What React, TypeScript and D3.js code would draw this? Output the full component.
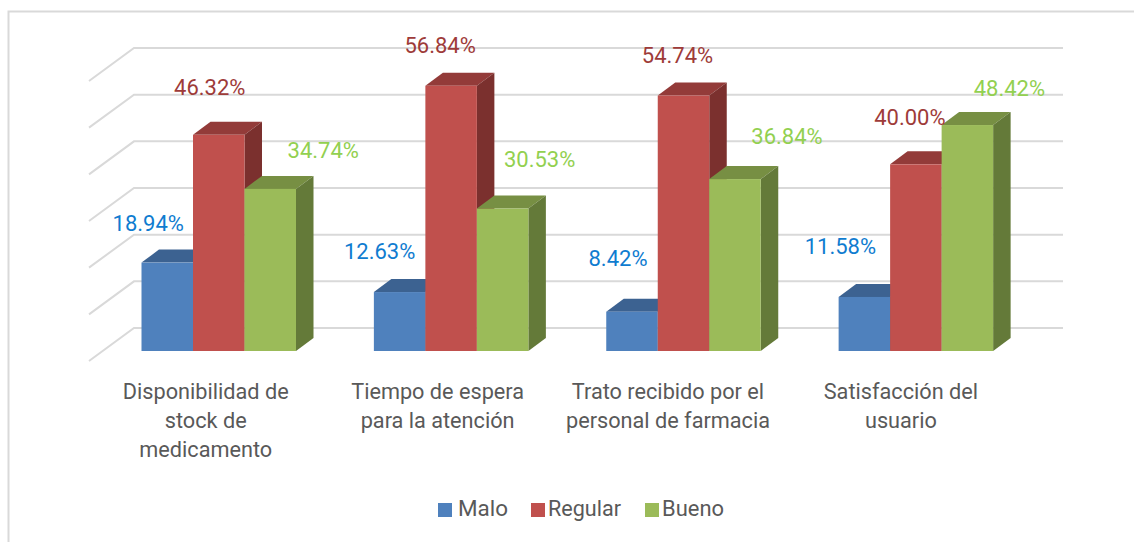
import React from "react";
import * as d3 from "d3";

const categories = [
  ["Disponibilidad de", "stock de", "medicamento"],
  ["Tiempo de espera", "para la atención"],
  ["Trato recibido por el", "personal de farmacia"],
  ["Satisfacción del", "usuario"],
];
const seriesNames = ["Malo", "Regular", "Bueno"];
const malo = [18.94, 12.63, 8.42, 11.58];
const regular = [46.32, 56.84, 54.74, 40.0];
const bueno = [34.74, 30.53, 36.84, 48.42];
const seriesValues = [malo, regular, bueno];
const gridTicks = [0, 10, 20, 30, 40, 50, 60];

const frontColors = ["#4f81bd", "#c0504d", "#9bbb59"];
const topColors = ["#3c6291", "#933b39", "#778f43"];
const sideColors = ["#345580", "#7b302e", "#647a39"];
const labelColors = ["#0f7cd0", "#9e3b39", "#92d050"];
// label offset from the top of each bar's front face: [dx from bar centre, dy]
const labelOffsets = [
  [[-19, -32], [-9, -40], [53, -31]],
  [[-20, -33], [-11, -33], [37, -42]],
  [[-14, -46], [-6, -33], [52, -35]],
  [[-24, -43], [-6, -39], [42, -29]],
];
const categoryShift = [0, -0.5, -2.5, -2];

const FONT = "Roboto, sans-serif";
const y = d3.scaleLinear().domain([0, 60]).range([351, 71]);
const gridY = d3.scaleLinear().domain([0, 60]).range([328, 48]);
const catX = d3.scaleBand<number>().domain([0, 1, 2, 3]).range([83.5, 1013]);
const BAR_W = 51.5;
const DX = 17.5;
const DY = 13;
const WALL_DX = 45;
const WALL_DY = 33;
const GRID_LEFT = 134;
const GRID_RIGHT = 1063;

function barX(c: number, s: number) {
  return (catX(c) as number) + 58 + s * BAR_W;
}
const poly = (pts: [number, number][]) => d3.line()(pts) + "Z";

export default function App() {
  const legendX = [438, 531, 645];
  const legendTextX = [458, 548, 662];
  const legendW = [50, 73, 62];
  return (
    <svg width={1134} height={542} style={{ position: "absolute", left: 0, top: 0, background: "#fff" }}>
      <path d="M8.5 542V11.5H1134" fill="none" stroke="#d9d9d9" strokeWidth={2} />
      {gridTicks.map((t) => (
        <path
          key={t}
          d={d3.line()([
            [GRID_LEFT - WALL_DX, gridY(t) + WALL_DY],
            [GRID_LEFT, gridY(t)],
            [GRID_RIGHT, gridY(t)],
          ]) as string}
          fill="none"
          stroke="#d9d9d9"
          strokeWidth={2}
        />
      ))}
      {categories.map((_, c) => (
        <g key={c}>
          {seriesValues.map((vals, s) => {
            const x0 = barX(c, s);
            const x1 = x0 + BAR_W;
            const yt = y(vals[c]);
            const yb = y(0);
            return (
              <g key={s}>
                <path d={poly([[x0, yt], [x0 + DX, yt - DY], [x1 + DX, yt - DY], [x1, yt]])} fill={topColors[s]} />
                <path d={poly([[x1, yt], [x1 + DX, yt - DY], [x1 + DX, yb - DY], [x1, yb]])} fill={sideColors[s]} />
                <rect x={x0} y={yt} width={BAR_W} height={yb - yt} fill={frontColors[s]} />
              </g>
            );
          })}
        </g>
      ))}
      {categories.map((_, c) => (
        <g key={c}>
          {seriesValues.map((vals, s) => (
            <text
              key={s}
              x={barX(c, s) + BAR_W / 2 + labelOffsets[c][s][0]}
              y={y(vals[c]) + labelOffsets[c][s][1]}
              textAnchor="middle"
              fontFamily={FONT}
              fontSize={22}
              fill={labelColors[s]}
            >
              {vals[c].toFixed(2)}%
            </text>
          ))}
          {categories[c].map((line, i) => (
            <text
              key={i}
              x={barX(c, 1) + BAR_W / 2 - 13 + categoryShift[c]}
              y={399 + i * 29}
              textAnchor="middle"
              fontFamily={FONT}
              fontSize={21.7}
              fill="#595959"
            >
              {line}
            </text>
          ))}
        </g>
      ))}
      {seriesNames.map((n, s) => (
        <g key={n}>
          <rect x={legendX[s]} y={503} width={14} height={14} fill={frontColors[s]} />
          <text x={legendTextX[s]} y={516} fontFamily={FONT} fontSize={22} fill="#595959" textLength={legendW[s]} lengthAdjust="spacingAndGlyphs">
            {n}
          </text>
        </g>
      ))}
    </svg>
  );
}
